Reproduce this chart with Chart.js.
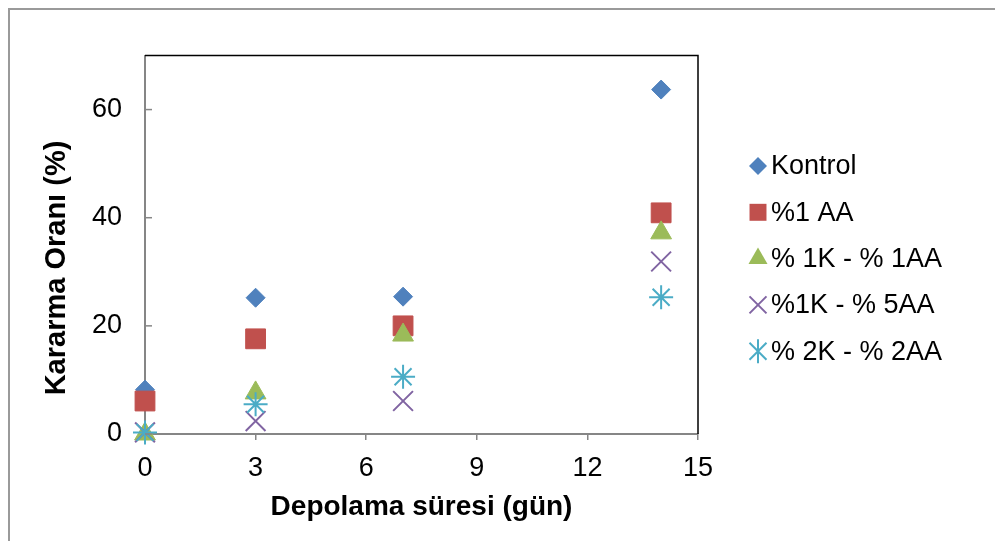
<!DOCTYPE html>
<html>
<head>
<meta charset="utf-8">
<script src="https://cdn.jsdelivr.net/npm/chart.js@4/dist/chart.umd.min.js"></script>
<style>
  html, body { margin: 0; padding: 0; background: #fff; overflow: hidden; }
  #frame { position: absolute; left: 8px; top: 8px; width: 1100px; height: 700px; border: 2px solid #9a9a9a; box-sizing: border-box; }
  #wrap { position: absolute; left: 0; top: 0; width: 995px; height: 541px; }
</style>
</head>
<body>
<div id="frame"></div>
<div id="wrap"><canvas id="c" width="995" height="541"></canvas></div>
<script>
const days = [0, 3, 7, 14];
const seriesNames = ["Kontrol", "%1 AA", "% 1K - % 1AA", "%1K - % 5AA", "% 2K - % 2AA"];
const kontrol = [8.2, 25.2, 25.4, 63.7];
const aa1 = [6.1, 17.6, 20.0, 40.9];
const k1aa1 = [0.0, 7.6, 18.3, 37.2];
const k1aa5 = [0.3, 2.4, 6.1, 31.9];
const k2aa2 = [0.3, 5.5, 10.6, 25.3];
const xTicks = [0, 3, 6, 9, 12, 15];
const yTicks = [0, 20, 40, 60];
const yTitle = 'Kararma Oranı (%)';
const xTitle = 'Depolama süresi (gün)';

const FONT = "'Liberation Sans', Arial, sans-serif";
const AXIS_GRAY = '#868686';

const styles = [
  { color: '#4F81BD', pointStyle: 'rectRot', radius: 9.5, borderWidth: 1 },
  { color: '#C0504D', pointStyle: 'rect', radius: 14, borderWidth: 1 },
  { color: '#9BBB59', pointStyle: 'triangle', radius: 12, borderWidth: 1 },
  { color: '#8064A2', pointStyle: 'crossRot', radius: 14, borderWidth: 2 },
  { color: '#4BACC6', pointStyle: 'star', radius: 12, borderWidth: 2 }
];
const seriesValues = [kontrol, aa1, k1aa1, k1aa5, k2aa2];

const datasets = seriesValues.map((vals, i) => ({
  label: seriesNames[i],
  data: days.map((d, j) => ({ x: d, y: vals[j] })),
  showLine: false,
  pointStyle: styles[i].pointStyle,
  pointRadius: styles[i].radius,
  pointHoverRadius: styles[i].radius,
  pointBorderWidth: styles[i].borderWidth,
  pointBackgroundColor: styles[i].color,
  pointBorderColor: styles[i].color,
  backgroundColor: styles[i].color,
  borderColor: styles[i].color,
  clip: false,
  order: seriesValues.length - i
}));

function drawMarker(ctx, style, x, y, r) {
  ctx.save();
  ctx.fillStyle = style.color;
  ctx.strokeStyle = style.color;
  ctx.lineWidth = style.borderWidth;
  ctx.beginPath();
  const s = Math.SQRT1_2 * r;
  switch (style.pointStyle) {
    case 'rectRot':
      ctx.moveTo(x, y - r); ctx.lineTo(x + r, y); ctx.lineTo(x, y + r); ctx.lineTo(x - r, y); ctx.closePath();
      ctx.fill(); break;
    case 'rect':
      ctx.rect(x - s, y - s, 2 * s, 2 * s); ctx.fill(); break;
    case 'triangle': {
      const w = r * Math.sin(Math.PI / 3);
      ctx.moveTo(x, y - r); ctx.lineTo(x + w, y + r / 2); ctx.lineTo(x - w, y + r / 2); ctx.closePath();
      ctx.fill(); break;
    }
    case 'crossRot':
      ctx.moveTo(x - s, y - s); ctx.lineTo(x + s, y + s);
      ctx.moveTo(x - s, y + s); ctx.lineTo(x + s, y - s);
      ctx.stroke(); break;
    case 'star':
      ctx.moveTo(x, y - r); ctx.lineTo(x, y + r);
      ctx.moveTo(x - s, y - s); ctx.lineTo(x + s, y + s);
      ctx.moveTo(x - s, y + s); ctx.lineTo(x + s, y - s);
      ctx.stroke(); break;
  }
  ctx.restore();
}

const framePlugin = {
  id: 'framePlugin',
  afterDraw(chart) {
    const { ctx, chartArea } = chart;
    const yScale = chart.scales.y;
    ctx.save();
    ctx.strokeStyle = '#000';
    ctx.lineWidth = 1.5;
    ctx.beginPath();
    ctx.moveTo(chartArea.left, chartArea.top);
    ctx.lineTo(chartArea.right, chartArea.top);
    ctx.lineTo(chartArea.right, chartArea.bottom);
    ctx.stroke();
    ctx.strokeStyle = AXIS_GRAY;
    ctx.lineWidth = 1.5;
    yScale.ticks.forEach(t => {
      const py = yScale.getPixelForValue(t.value);
      ctx.beginPath();
      ctx.moveTo(chartArea.left, py);
      ctx.lineTo(chartArea.left + 7, py);
      ctx.stroke();
    });
    ctx.restore();

    // y axis title (Excel centres it a bit lower than the plot area)
    ctx.save();
    ctx.translate(57, 268);
    ctx.rotate(-Math.PI / 2);
    ctx.font = "bold 29px " + FONT;
    ctx.fillStyle = '#000';
    ctx.textAlign = 'center';
    ctx.textBaseline = 'middle';
    ctx.fillText(yTitle, 0, 0);
    ctx.restore();

    // legend
    const lx = 758, ly0 = 166, step = 46.3;
    ctx.save();
    ctx.font = "27px " + FONT;
    ctx.fillStyle = '#000';
    ctx.textBaseline = 'middle';
    ctx.textAlign = 'left';
    chart.data.datasets.forEach((ds, i) => {
      const y = ly0 + i * step;
      const st = styles[i];
      const r = st.pointStyle === 'rect' ? 12 : (st.pointStyle === 'rectRot' ? 9 : (st.pointStyle === 'triangle' ? 11 : 12));
      drawMarker(ctx, st, lx, y, r);
      ctx.fillText(ds.label, 771, y + 1);
    });
    ctx.restore();
  }
};

new Chart(document.getElementById('c'), {
  type: 'scatter',
  data: { datasets },
  options: {
    responsive: false,
    animation: false,
    events: [],
    layout: { padding: { left: 0, top: 55.5, right: 297, bottom: 0 } },
    plugins: { legend: { display: false }, tooltip: { enabled: false } },
    scales: {
      x: {
        type: 'linear',
        min: xTicks[0], max: xTicks[xTicks.length - 1],
        afterBuildTicks: s => { s.ticks = xTicks.map(v => ({ value: v })); },
        afterFit: s => { s.height = 107; },
        grid: { drawOnChartArea: false, drawTicks: true, tickLength: 6, color: AXIS_GRAY, lineWidth: 1.5 },
        border: { display: true, color: AXIS_GRAY, width: 2 },
        ticks: { color: '#000', padding: 12, font: { family: FONT, size: 27 } },
        title: { display: true, text: xTitle, color: '#000', font: { family: FONT, size: 28, weight: 'bold' }, padding: { top: 0, bottom: 17 } }
      },
      y: {
        type: 'linear',
        min: 0, max: 70,
        afterBuildTicks: s => { s.ticks = yTicks.map(v => ({ value: v })); },
        afterFit: s => { s.width = 145; },
        grid: { drawOnChartArea: false, drawTicks: false },
        border: { display: true, color: AXIS_GRAY, width: 2 },
        ticks: { color: '#000', padding: 23, font: { family: FONT, size: 27 } },
        title: { display: false }
      }
    }
  },
  plugins: [framePlugin]
});
</script>
</body>
</html>
